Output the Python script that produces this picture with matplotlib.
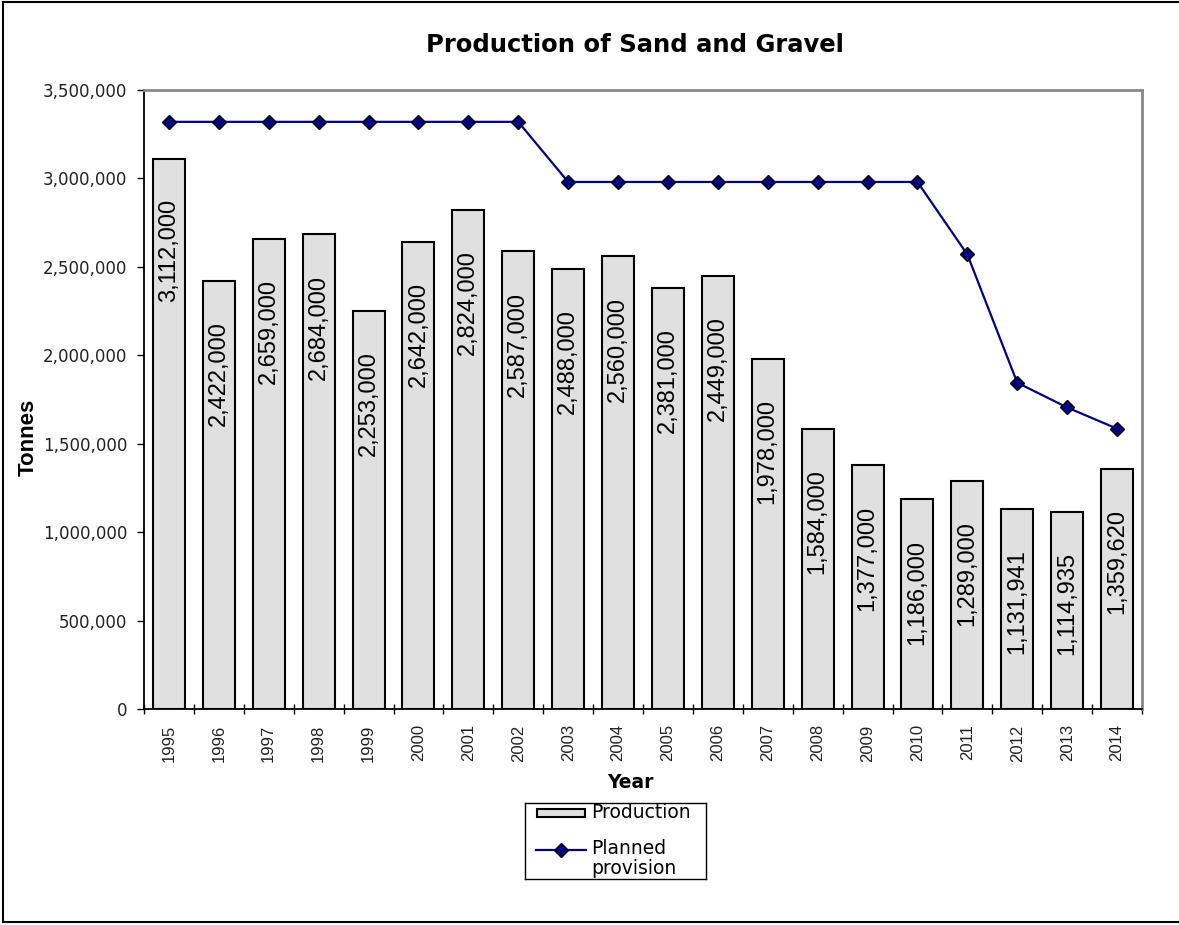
import matplotlib
matplotlib.use("Agg")
import matplotlib.pyplot as plt
from matplotlib import font_manager
from matplotlib.lines import Line2D
from matplotlib.patches import Rectangle

plt.rcParams["font.family"] = ["DejaVu Sans"]

# the reference text is stretched sideways: wide font for horizontal text,
# narrow font for the rotated text
installed = {f.name for f in font_manager.fontManager.ttflist}
NARROW = "Liberation Sans Narrow" if "Liberation Sans Narrow" in installed else "Liberation Sans"

# --- data ---
years = [str(y) for y in range(1995, 2015)]
production = [3112000, 2422000, 2659000, 2684000, 2253000, 2642000, 2824000,
              2587000, 2488000, 2560000, 2381000, 2449000, 1978000, 1584000,
              1377000, 1186000, 1289000, 1131941, 1114935, 1359620]
planned = [3320000] * 8 + [2980000] * 8 + [2570000, 1845000, 1705000, 1585000]
y_ticks = list(range(0, 3500001, 500000))

W, H = 1179, 925
fig = plt.figure(figsize=(W / 100, H / 100), dpi=100)
ax = fig.add_axes([144 / W, 1 - 709 / H, (1142 - 144) / W, (709 - 90) / H])

x = list(range(len(years)))
ax.bar(x, production, width=0.64, color="#e0e0e0", edgecolor="black",
       linewidth=1.5, zorder=2)
ax.plot(x, planned, color="#000080", linewidth=1.6, marker="D", markersize=7,
        markerfacecolor="#000080", markeredgecolor="black", markeredgewidth=1,
        zorder=3)

# value labels, rotated, inside the top of each bar
for xi, v in zip(x, production):
    ax.annotate(f"{v:,}", (xi, v), xytext=(0, -29), textcoords="offset points",
                rotation=90, ha="center", va="top", fontsize=17,
                family=NARROW, zorder=4)

ax.set_xlim(-0.5, len(years) - 0.5)
ax.set_ylim(0, 3500000)
ax.set_yticks(y_ticks)
ax.set_yticklabels([f"{t:,}" for t in y_ticks], fontsize=12, color="#222222")
ax.tick_params(axis="y", direction="out", length=5, width=1, pad=7)

ax.set_xticks(x)
ax.set_xticklabels(years, rotation=90, fontsize=12, family=NARROW,
                   color="#222222")
ax.tick_params(axis="x", length=0, pad=11)
ax.set_xticks([i - 0.5 for i in range(len(years) + 1)], minor=True)
ax.tick_params(axis="x", which="minor", direction="inout", length=7, width=1)

for side in ("top", "right"):
    ax.spines[side].set_color("#888888")
    ax.spines[side].set_linewidth(2)
for side in ("left", "bottom"):
    ax.spines[side].set_color("black")
    ax.spines[side].set_linewidth(1.3)

fig.text(635 / W, 1 - 45 / H, "Production of Sand and Gravel", ha="center",
         va="center", fontsize=17.5, fontweight="bold")
fig.text(28 / W, 1 - 437 / H, "Tonnes", rotation=90, ha="center", va="center",
         fontsize=16, fontweight="bold", family=NARROW)
fig.text(630 / W, 1 - 783 / H, "Year", ha="center", va="center",
         fontsize=13.5, fontweight="bold")

# legend box drawn by hand so the line sits next to the first text line
leg = fig.add_axes([525 / W, 1 - 879 / H, (706 - 525) / W, (879 - 803) / H])
leg.set_xlim(525, 706)
leg.set_ylim(879, 803)
leg.set_xticks([])
leg.set_yticks([])
for s in leg.spines.values():
    s.set_linewidth(1)
leg.add_patch(Rectangle((537, 809), 48, 8, facecolor="#e0e0e0",
                        edgecolor="black", linewidth=1.5))
leg.add_line(Line2D([536, 586], [850, 850], color="#000080", linewidth=1.6))
leg.add_line(Line2D([561], [850], marker="D", markersize=7,
                    markerfacecolor="#000080", markeredgecolor="black"))
leg.text(591, 812, "Production", va="center", ha="left", fontsize=13.5)
leg.text(591, 849, "Planned", va="center", ha="left", fontsize=13.5)
leg.text(591, 868, "provision", va="center", ha="left", fontsize=13.5)

# chart-area border (left, top, bottom)
fig.add_artist(Line2D([3 / W, 3 / W], [1 - 922 / H, 1 - 2 / H], color="black",
                      linewidth=1.5))
fig.add_artist(Line2D([3 / W, 1], [1 - 2 / H, 1 - 2 / H], color="black",
                      linewidth=1.5))
fig.add_artist(Line2D([3 / W, 1], [1 - 922 / H, 1 - 922 / H], color="black",
                      linewidth=1.5))

fig.savefig("out.png", dpi=100)
